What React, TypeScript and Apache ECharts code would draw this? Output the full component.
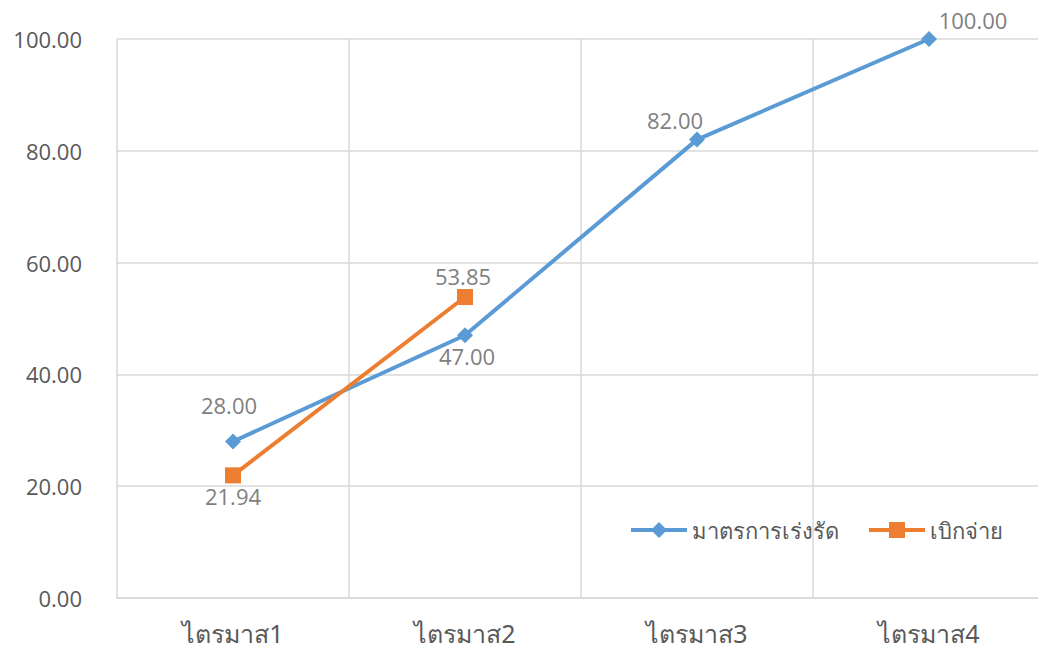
import React, { useEffect, useRef } from "react";
import * as echarts from "echarts";

const categories = ["ไตรมาส1", "ไตรมาส2", "ไตรมาส3", "ไตรมาส4"];
const measureValues = [28.0, 47.0, 82.0, 100.0];
const disburseValues = [21.94, 53.85];
const yTicks = { min: 0, max: 100, interval: 20 };
const seriesNames = ["มาตรการเร่งรัด", "เบิกจ่าย"];

const measureLabelPos: any[] = [
  { position: "top", offset: [-4, -12] },
  { position: "bottom", offset: [2, -3] },
  { position: "top", offset: [-22, 4] },
  { position: "top", offset: [44, 5] },
];
const disburseLabelPos: any[] = [
  { position: "bottom", offset: [0, -3] },
  { position: "top", offset: [-2, 3] },
];

export default function App() {
  const ref = useRef<HTMLDivElement>(null);
  useEffect(() => {
    const chart = echarts.init(ref.current!, undefined, { renderer: "svg" });
    const labelStyle = { color: "#7f7f7f", fontSize: 22, fontFamily: "Open Sans, sans-serif", formatter: (p: any) => Number(p.value).toFixed(2) };
    chart.setOption({
      animation: false,
      backgroundColor: "#ffffff",
      grid: { left: 117, top: 39, width: 928, height: 559, containLabel: false },
      legend: {
        left: 624,
        top: 514,
        itemWidth: 56,
        itemHeight: 20,
        itemGap: 28,
        lineStyle: { width: 4 },
        textStyle: { color: "#595959", fontSize: 22, fontFamily: "Noto Sans, sans-serif" },
        data: seriesNames,
      },
      xAxis: {
        type: "category",
        data: categories,
        boundaryGap: true,
        axisLine: { lineStyle: { color: "#d9d9d9", width: 1.5 } },
        axisTick: { show: false },
        splitLine: { show: true, lineStyle: { color: "#d9d9d9", width: 1.5 } },
        axisLabel: { color: "#595959", fontSize: 25, margin: 22, fontFamily: "Noto Sans, sans-serif" },
      },
      yAxis: {
        type: "value",
        min: yTicks.min,
        max: yTicks.max,
        interval: yTicks.interval,
        axisLine: { show: false },
        axisTick: { show: false },
        splitLine: { lineStyle: { color: "#d9d9d9", width: 1.5 } },
        axisLabel: { color: "#595959", fontSize: 22, margin: 35, fontFamily: "Open Sans, sans-serif", formatter: (v: number) => v.toFixed(2) },
      },
      series: [
        {
          name: seriesNames[0],
          type: "line",
          color: "#5B9BD5",
          lineStyle: { width: 4, color: "#5B9BD5" },
          symbol: "diamond",
          symbolSize: 16,
          itemStyle: { color: "#5B9BD5" },
          label: { show: true, ...labelStyle },
          data: measureValues.map((v, i) => ({ value: v, label: measureLabelPos[i] })),
        },
        {
          name: seriesNames[1],
          type: "line",
          color: "#ED7D31",
          lineStyle: { width: 4, color: "#ED7D31" },
          symbol: "rect",
          symbolSize: 16,
          itemStyle: { color: "#ED7D31" },
          label: { show: true, ...labelStyle },
          data: disburseValues.map((v, i) => ({ value: v, label: disburseLabelPos[i] })),
        },
      ],
    });
    return () => chart.dispose();
  }, []);
  return <div ref={ref} style={{ position: "fixed", left: 0, top: 0, width: 1050, height: 653 }} />;
}
